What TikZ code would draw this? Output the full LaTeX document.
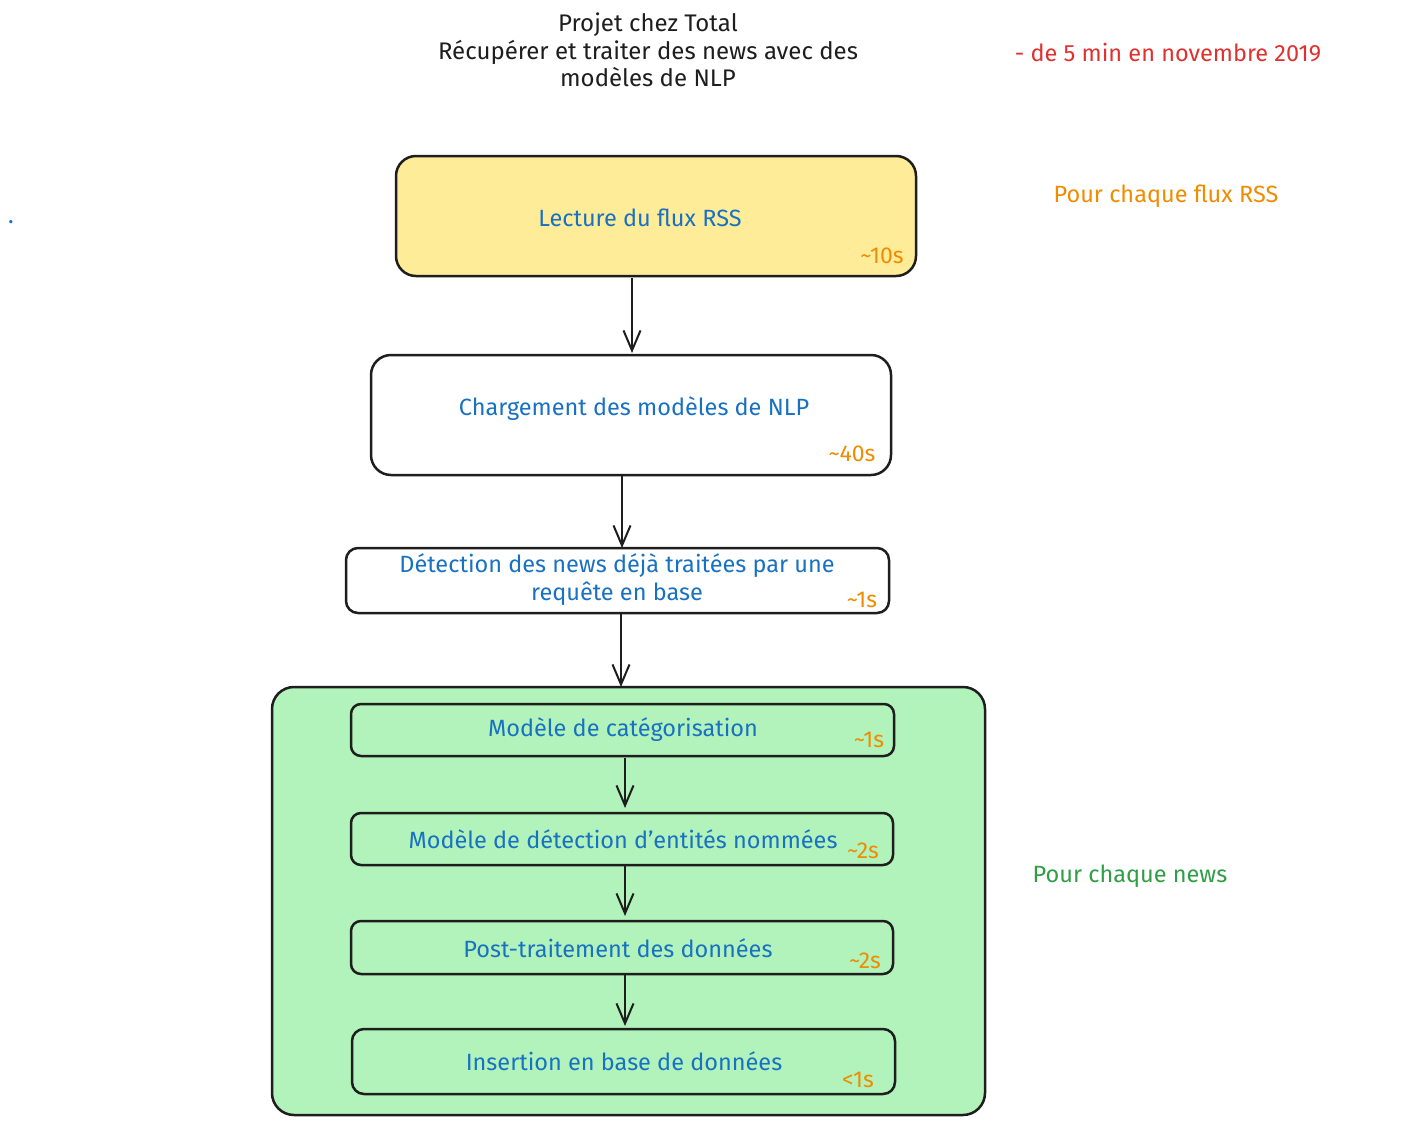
\documentclass[tikz,border=0pt]{standalone}
\usepackage{fontspec}
\setmainfont{Fira Sans}
\usetikzlibrary{arrows.meta}
\definecolor{ink}{HTML}{1E1E1E}
\definecolor{tblue}{HTML}{1971C2}
\definecolor{torange}{HTML}{F08C00}
\definecolor{tred}{HTML}{E03131}
\definecolor{tgreen}{HTML}{2F9E44}
\definecolor{fyellow}{HTML}{FFEC99}
\definecolor{fgreen}{HTML}{B2F2BB}
\tikzset{
  x=1pt, y=-1pt,
  boxshape/.style={draw=ink, line width=2.5pt, rounded corners=#1},
  boxshape/.default=14pt,
  lbl/.style={text=tblue, font=\fontsize{23.5}{28}\selectfont, align=center, inner sep=0},
  tim/.style={text=torange, font=\fontsize{23}{26}\selectfont, inner sep=0},
  ttl/.style={text=ink, font=\fontsize{24}{27.5}\selectfont, align=center, inner sep=0},
  side/.style={font=\fontsize{23.5}{26}\selectfont, inner sep=0},
  flow/.style={draw=ink, line width=2.5pt, -{Straight Barb[length=20pt,width=17pt,line width=2pt]}},
}
\begin{document}
\begin{tikzpicture}
\useasboundingbox[fill=white] (0,0) rectangle (1411,1125);
% title and side notes
\node[ttl] (title) at (648,50) {Projet chez Total\\Récupérer et traiter des news avec des\\modèles de NLP};
\node[side, text=tred] (note) at (1168,53) {- de 5 min en novembre 2019};
\node[side, text=torange] (perrss) at (1166,196) {Pour chaque flux RSS};
\node[side, text=tgreen] (pernews) at (1130,876) {Pour chaque news};
\node[side, text=tblue] (dot) at (11,222) {.};
% boxes
\draw[boxshape=20pt, fill=fyellow] (396,156) rectangle (916,276);
\coordinate (b1t) at (632,156); \coordinate (b1b) at (632,278);
\node[lbl] (l1) at (640,218) {Lecture du flux RSS};
\node[tim] (t1) at (882,256) {\textasciitilde10s};

\draw[boxshape=20pt, fill=white] (371,355) rectangle (891,475);
\coordinate (b2t) at (632,353); \coordinate (b2b) at (622,476);
\node[lbl] (l2) at (634,409) {Chargement des modèles de NLP};
\node[tim] (t2) at (852,454) {\textasciitilde40s};

\draw[boxshape=12pt, fill=white] (346,548) rectangle (889,613);
\coordinate (b3t) at (622,548); \coordinate (b3b) at (621,614);
\node[lbl] (l3) at (617,580) {Détection des news déjà traitées par une\\requête en base};
\node[tim] (t3) at (862,600) {\textasciitilde1s};

\draw[boxshape=22pt, fill=fgreen] (272,687) rectangle (985,1115);
\coordinate (gt) at (621,687);

\draw[boxshape=10pt] (351,704) rectangle (894,756);
\coordinate (i1b) at (625,758);
\node[lbl] (l4) at (623,730) {Modèle de catégorisation};
\node[tim] (t4) at (869,740) {\textasciitilde1s};

\draw[boxshape=10pt] (351,813) rectangle (893,865);
\coordinate (i2t) at (625,808); \coordinate (i2b) at (625,866);
\node[lbl] (l5) at (623,839) {Modèle de détection d'entités nommées};
\node[tim] (t5) at (863,851) {\textasciitilde2s};

\draw[boxshape=10pt] (351,921) rectangle (893,974);
\coordinate (i3t) at (625,916); \coordinate (i3b) at (625,975);
\node[lbl] (l6) at (618,948) {Post-traitement des données};
\node[tim] (t6) at (865,961) {\textasciitilde2s};

\draw[boxshape=12pt] (352,1029) rectangle (895,1094);
\coordinate (i4t) at (625,1026);
\node[lbl] (l7) at (624,1061) {Insertion en base de données};
\node[tim] (t7) at (858,1080) {<1s};

% connectors
\draw[flow] (b1b) -- (b2t);
\draw[flow] (b2b) -- (b3t);
\draw[flow] (b3b) -- (gt);
\draw[flow] (i1b) -- (i2t);
\draw[flow] (i2b) -- (i3t);
\draw[flow] (i3b) -- (i4t);
\end{tikzpicture}
\end{document}
